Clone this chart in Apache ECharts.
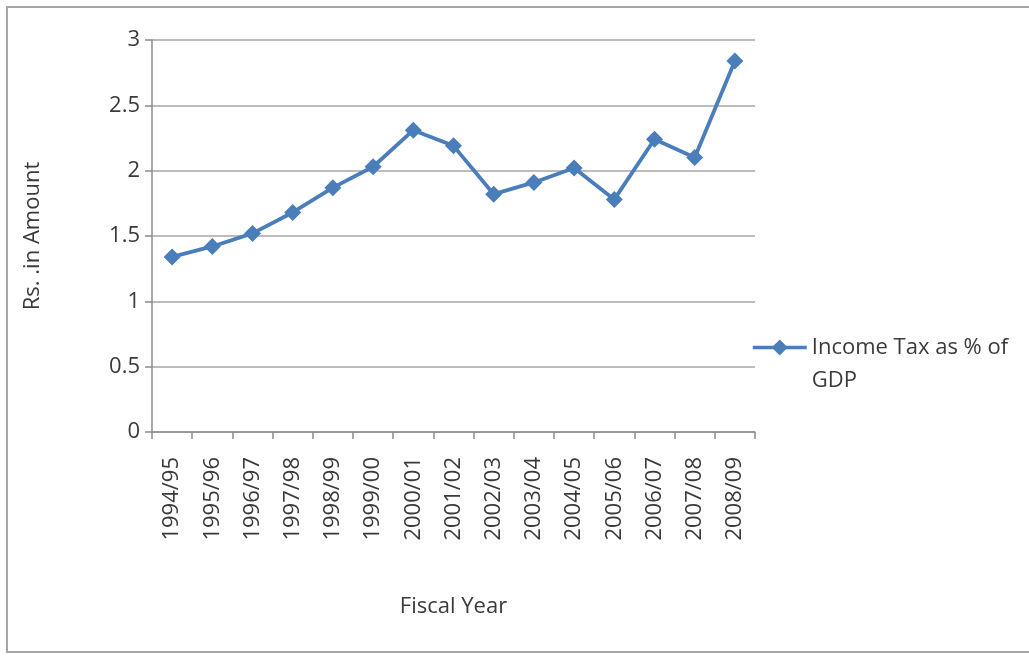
<!DOCTYPE html>
<html>
<head>
<meta charset="utf-8">
<title>Income Tax as % of GDP</title>
<script src="https://cdn.jsdelivr.net/npm/echarts@6/dist/echarts.min.js"></script>
<style>
  html, body { margin: 0; padding: 0; background: #fff; }
  #chart { width: 1029px; height: 658px; }
</style>
</head>
<body>
<div id="chart"></div>
<script>
// Fiscal years on the category axis
const fiscalYears = [
  '1994/95', '1995/96', '1996/97', '1997/98', '1998/99',
  '1999/00', '2000/01', '2001/02', '2002/03', '2003/04',
  '2004/05', '2005/06', '2006/07', '2007/08', '2008/09'
];

// Income tax as a share of GDP
const incomeTaxPctGdp = [
  1.34, 1.42, 1.52, 1.68, 1.87,
  2.03, 2.31, 2.19, 1.82, 1.91,
  2.02, 1.78, 2.24, 2.10, 2.84
];

const seriesName = 'Income Tax as % of GDP';
const yAxisTitle = 'Rs. .in Amount';
const xAxisTitle = 'Fiscal Year';

const FONT = '"Open Sans", Lato, sans-serif';
const FS = 22;
const TEXT = '#3a3a3a';
const BLUE = '#4A7EBB';

const chart = echarts.init(document.getElementById('chart'), null, { renderer: 'canvas' });

chart.setOption({
  backgroundColor: '#ffffff',
  animation: false,
  textStyle: { fontFamily: FONT },
  graphic: [{
    type: 'rect',
    shape: { x: 7, y: 7, width: 1040, height: 645 },
    style: { fill: 'none', stroke: '#a6a6a6', lineWidth: 2 },
    silent: true,
    z: -10
  }],
  grid: { left: 152, right: 274, top: 40, bottom: 226 },
  legend: {
    data: [seriesName],
    orient: 'vertical',
    left: 751,
    top: 298,
    padding: 0,
    itemWidth: 54,
    itemHeight: 20,
    itemGap: 0,
    // leading blank line keeps the icon level with the first text line
    formatter: () => '\nIncome Tax as % of\nGDP',
    lineStyle: { width: 3.5 },
    textStyle: {
      fontFamily: FONT,
      fontSize: FS,
      color: TEXT,
      lineHeight: 33
    }
  },
  xAxis: {
    type: 'category',
    data: fiscalYears,
    boundaryGap: true,
    name: xAxisTitle,
    nameLocation: 'middle',
    nameGap: 164,
    nameTextStyle: { fontFamily: FONT, fontSize: FS, color: TEXT },
    axisLine: { show: true, lineStyle: { color: '#8c8c8c', width: 1.5 } },
    axisTick: { show: true, interval: 0, length: 7, lineStyle: { color: '#8c8c8c', width: 1.5 } },
    axisLabel: {
      interval: 0,
      rotate: 90,
      margin: 25,
      fontFamily: FONT,
      fontSize: FS,
      color: TEXT
    },
    splitLine: { show: false }
  },
  yAxis: {
    type: 'value',
    min: 0,
    max: 3,
    interval: 0.5,
    name: yAxisTitle,
    nameLocation: 'middle',
    nameGap: 108,
    nameTextStyle: { fontFamily: FONT, fontSize: FS, color: TEXT },
    axisLine: { show: true, lineStyle: { color: '#8c8c8c', width: 1.5 } },
    axisTick: { show: true, length: 7, lineStyle: { color: '#8c8c8c', width: 1.5 } },
    axisLabel: {
      margin: 12,
      fontFamily: FONT,
      fontSize: FS,
      color: TEXT,
      formatter: v => String(v)
    },
    splitLine: { show: true, lineStyle: { color: '#a6a6a6', width: 1.5 } }
  },
  series: [{
    name: seriesName,
    type: 'line',
    data: incomeTaxPctGdp,
    symbol: 'diamond',
    symbolSize: 17,
    lineStyle: { color: BLUE, width: 3.8 },
    itemStyle: { color: BLUE },
    z: 3
  }]
});
</script>
</body>
</html>
